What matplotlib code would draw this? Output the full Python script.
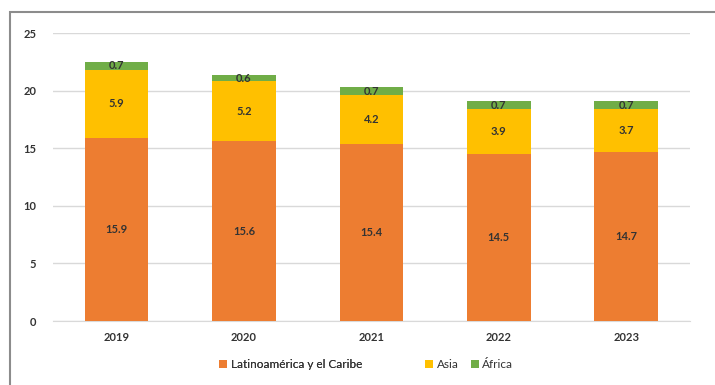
import matplotlib.pyplot as plt
from matplotlib.patches import Rectangle
import numpy as np

plt.rcParams["font.family"] = ["Lato", "DejaVu Sans"]

years = ["2019", "2020", "2021", "2022", "2023"]
latam = [15.9, 15.6, 15.4, 14.5, 14.7]
asia = [5.9, 5.2, 4.2, 3.9, 3.7]
africa = [0.7, 0.6, 0.7, 0.7, 0.7]

series = [
    ("Latinoamérica y el Caribe", latam, "#ED7D31"),
    ("Asia", asia, "#FFC000"),
    ("África", africa, "#70AD47"),
]

fig = plt.figure(figsize=(7.15, 3.85), dpi=100)
ax = fig.add_axes([0.074, 0.166, 0.891, 0.748])

# outer frame of the original image
fig.patches.append(Rectangle((10 / 715, -0.1), 1.2, 1 - 12 / 385 + 0.1,
                             transform=fig.transFigure, fill=False,
                             edgecolor="#8c8c8c", linewidth=1.5))

x = np.arange(len(years))
bottom = np.zeros(len(years))
handles = []
for name, vals, color in series:
    bars = ax.bar(x, vals, width=0.5, bottom=bottom, color=color, label=name, zorder=3)
    handles.append(bars)
    for rect, v, b in zip(bars, vals, bottom):
        ax.text(rect.get_x() + rect.get_width() / 2, b + v / 2, f"{v:.1f}",
                ha="center", va="center", fontsize=8, fontweight="bold",
                color="#333333", zorder=4)
    bottom += np.array(vals)

ax.set_xlim(-0.5, len(years) - 0.5)
ax.set_ylim(0, 25)
ax.set_yticks(np.arange(0, 26, 5))
ax.set_xticks(x)
ax.set_xticklabels(years)
ax.tick_params(length=0, labelsize=8, colors="#333333", pad=8)
ax.tick_params(axis="y", pad=12)
for lbl in ax.get_xticklabels() + ax.get_yticklabels():
    lbl.set_fontweight("bold")

ax.grid(axis="y", color="#d9d9d9", linewidth=1, zorder=0)
for s in ["top", "right", "left"]:
    ax.spines[s].set_visible(False)
ax.spines["bottom"].set_color("#d9d9d9")

legend_kw = dict(ncol=2, frameon=False, fontsize=8.5, handlelength=0.7,
                 handleheight=0.7, handletextpad=0.3, columnspacing=1.0,
                 labelcolor="#333333", borderaxespad=0)
leg1 = fig.legend(handles[:1], [series[0][0]], loc="center left",
                  bbox_to_anchor=(0.300, 0.052), **legend_kw)
fig.legend(handles[1:], [s[0] for s in series[1:]], loc="center left",
           bbox_to_anchor=(0.588, 0.052), **legend_kw)
fig.add_artist(leg1)

plt.savefig("out.png", dpi=100)
